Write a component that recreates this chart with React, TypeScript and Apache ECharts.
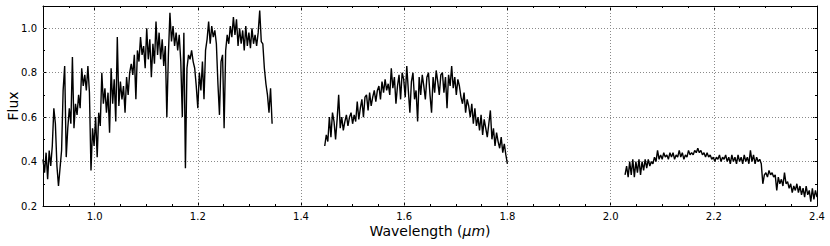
import React, { useEffect, useRef } from "react";
import * as echarts from "echarts";

// Wavelength grid of each band: start (µm) and step (µm)
const seg1Start = 0.9;
const seg2Start = 1.446;
const seg3Start = 2.028;
const segStep = 0.003;

// Flux values
const seg1Flux = [
  0.41, 0.35, 0.44, 0.32, 0.45, 0.38, 0.47, 0.64, 0.57, 0.38,
  0.29, 0.37, 0.45, 0.72, 0.83, 0.42, 0.55, 0.64, 0.57, 0.87,
  0.55, 0.66, 0.61, 0.70, 0.64, 0.82, 0.74, 0.79, 0.72, 0.83,
  0.71, 0.36, 0.55, 0.47, 0.60, 0.42, 0.62, 0.56, 0.80, 0.66,
  0.73, 0.62, 0.71, 0.53, 0.82, 0.66, 0.77, 0.58, 0.96, 0.65,
  0.76, 0.68, 0.74, 0.62, 0.78, 0.70, 0.80, 0.84, 0.79, 0.88,
  0.68, 0.90, 0.85, 0.96, 0.88, 0.92, 0.82, 1.00, 0.86, 0.95,
  0.78, 0.93, 0.84, 1.03, 0.88, 0.98, 0.86, 0.95, 0.83, 0.92,
  0.60, 0.88, 1.07, 0.94, 1.01, 0.92, 0.98, 0.90, 0.97, 0.85,
  0.60, 0.98, 0.37, 0.82, 0.88, 0.86, 0.90, 0.85, 0.82, 0.74,
  0.64, 0.80, 0.72, 0.85, 0.68, 0.90, 0.95, 1.03, 0.93, 1.01,
  0.96, 0.99, 0.93, 0.75, 0.61, 0.85, 0.88, 0.55, 0.90, 0.97,
  0.93, 1.01, 0.96, 1.05, 0.97, 1.04, 0.92, 1.00, 0.93, 0.99,
  0.90, 1.01, 0.92, 0.98, 0.91, 1.00, 0.93, 0.97, 0.92, 0.98,
  1.08, 0.94, 0.93, 0.82, 0.75, 0.70, 0.62, 0.73, 0.57,
];

const seg2Flux = [
  0.47, 0.52, 0.49, 0.60, 0.51, 0.62, 0.58, 0.50, 0.59, 0.70,
  0.55, 0.60, 0.54, 0.58, 0.61, 0.56, 0.60, 0.62, 0.57, 0.61,
  0.58, 0.67, 0.59, 0.64, 0.68, 0.60, 0.69, 0.70, 0.63, 0.71,
  0.65, 0.69, 0.72, 0.67, 0.72, 0.74, 0.68, 0.76, 0.71, 0.77,
  0.72, 0.75, 0.70, 0.82, 0.73, 0.78, 0.66, 0.74, 0.79, 0.68,
  0.80, 0.77, 0.69, 0.83, 0.72, 0.62, 0.76, 0.80, 0.68, 0.72,
  0.58, 0.78, 0.70, 0.79, 0.74, 0.68, 0.78, 0.80, 0.70, 0.62,
  0.78, 0.71, 0.81, 0.76, 0.70, 0.79, 0.80, 0.71, 0.78, 0.64,
  0.79, 0.74, 0.83, 0.73, 0.78, 0.70, 0.77, 0.74, 0.69, 0.66,
  0.71, 0.62, 0.68, 0.65, 0.60, 0.66, 0.57, 0.64, 0.56, 0.60,
  0.54, 0.61, 0.52, 0.59, 0.55, 0.51, 0.57, 0.63, 0.50, 0.55,
  0.47, 0.53, 0.49, 0.46, 0.51, 0.44, 0.48, 0.43, 0.39,
];

const seg3Flux = [
  0.34, 0.38, 0.33, 0.40, 0.34, 0.41, 0.33, 0.40, 0.35, 0.41,
  0.34, 0.40, 0.36, 0.41, 0.37, 0.41, 0.38, 0.40, 0.39, 0.42,
  0.40, 0.45, 0.41, 0.43, 0.41, 0.44, 0.42, 0.43, 0.41, 0.44,
  0.42, 0.44, 0.41, 0.43, 0.42, 0.45, 0.42, 0.44, 0.41, 0.43,
  0.42, 0.45, 0.43, 0.44, 0.43, 0.45, 0.44, 0.46, 0.44, 0.45,
  0.43, 0.44, 0.42, 0.44, 0.42, 0.43, 0.41, 0.42, 0.40, 0.42,
  0.41, 0.43, 0.40, 0.42, 0.41, 0.43, 0.40, 0.42, 0.39, 0.43,
  0.40, 0.42, 0.39, 0.43, 0.40, 0.42, 0.39, 0.43, 0.40, 0.42,
  0.39, 0.45, 0.40, 0.43, 0.39, 0.42, 0.40, 0.41, 0.39, 0.30,
  0.34, 0.35, 0.33, 0.36, 0.34, 0.35, 0.33, 0.34, 0.27, 0.33,
  0.30, 0.32, 0.29, 0.35, 0.30, 0.31, 0.28, 0.30, 0.26, 0.29,
  0.27, 0.30, 0.26, 0.29, 0.25, 0.28, 0.24, 0.29, 0.25, 0.27,
  0.22, 0.28, 0.23, 0.27, 0.24,
];

// Axis ranges and grid lines
const xMin = 0.9;
const xMax = 2.4;
const yMin = 0.2;
const yMax = 1.1;
const xGridValues = [1.0, 1.2, 1.4, 1.6, 1.8, 2.0, 2.2];
const yGridValues = [0.4, 0.6, 0.8, 1.0];

const FONT = "DejaVu Sans";

function toPoints(start: number, flux: number[]) {
  return flux.map((f, i) => [+(start + i * segStep).toFixed(4), f]);
}

export default function App() {
  const ref = useRef<HTMLDivElement>(null);

  useEffect(() => {
    if (!ref.current) return;
    const chart = echarts.init(ref.current, undefined, { renderer: "svg" });

    const L = 43;
    const W = 774;
    const T = 6;
    const H = 200;
    const majorLeft = L + (W * (1.0 - xMin)) / (xMax - xMin);

    const lineSeries = (data: number[][]) => ({
      type: "line",
      xAxisIndex: 0,
      yAxisIndex: 0,
      data,
      showSymbol: false,
      symbol: "none",
      silent: true,
      z: 3,
      lineStyle: { color: "#000", width: 1.4 },
    });

    const minorX = (pos: string) => ({
      type: "value",
      gridIndex: 0,
      position: pos,
      min: xMin,
      max: xMax,
      interval: 0.05,
      axisLine: { show: true, onZero: false, lineStyle: { color: "#000", width: 1 } },
      axisTick: { show: true, inside: true, length: 2, lineStyle: { color: "#000" } },
      axisLabel: { show: false },
      splitLine: { show: false },
    });
    const majorX = (pos: string, labels: boolean) => ({
      type: "value",
      gridIndex: 1,
      position: pos,
      min: 1.0,
      max: xMax,
      interval: 0.2,
      axisLine: { show: false, onZero: false },
      axisTick: { show: true, inside: true, length: 4, lineStyle: { color: "#000" } },
      axisLabel: {
        show: labels,
        margin: 5,
        fontSize: 10,
        color: "#000",
        fontFamily: FONT,
        formatter: (v: number) => v.toFixed(1),
      },
      splitLine: { show: false },
    });
    const yAx = (pos: string, interval: number, len: number, labels: boolean, line: boolean) => ({
      type: "value",
      gridIndex: 0,
      position: pos,
      min: yMin,
      max: yMax,
      interval,
      axisLine: { show: line, onZero: false, lineStyle: { color: "#000", width: 1 } },
      axisTick: { show: true, inside: true, length: len, lineStyle: { color: "#000" } },
      axisLabel: {
        show: labels,
        margin: 6,
        fontSize: 10,
        color: "#000",
        fontFamily: FONT,
        showMaxLabel: false,
        formatter: (v: number) => v.toFixed(1),
      },
      splitLine: { show: false },
    });

    chart.setOption({
      animation: false,
      backgroundColor: "#fff",
      grid: [
        { left: L, top: T, width: W, height: H, containLabel: false },
        { left: majorLeft, top: T, width: L + W - majorLeft, height: H, containLabel: false },
      ],
      xAxis: [minorX("bottom"), minorX("top"), majorX("bottom", true), majorX("top", false)],
      yAxis: [
        yAx("left", 0.2, 4, true, true),
        yAx("left", 0.1, 2, false, false),
        yAx("right", 0.2, 4, false, true),
        yAx("right", 0.1, 2, false, false),
        { type: "value", gridIndex: 1, show: false, min: yMin, max: yMax },
      ],
      series: [
        {
          type: "line",
          xAxisIndex: 0,
          yAxisIndex: 0,
          data: [],
          silent: true,
          markLine: {
            silent: true,
            z: 1,
            symbol: ["none", "none"],
            label: { show: false },
            lineStyle: { color: "#8a8a8a", type: [1, 2], width: 1 },
            emphasis: { disabled: true },
            data: [
              ...xGridValues.map((v) => ({ xAxis: v })),
              ...yGridValues.map((v) => ({ yAxis: v })),
            ],
          },
        },
        lineSeries(toPoints(seg1Start, seg1Flux)),
        lineSeries(toPoints(seg2Start, seg2Flux)),
        lineSeries(toPoints(seg3Start, seg3Flux)),
      ],
      graphic: [
        {
          type: "text",
          x: 13,
          y: 106,
          rotation: Math.PI / 2,
          style: {
            text: "Flux",
            fontSize: 14,
            fontFamily: FONT,
            fill: "#000",
            align: "center",
            verticalAlign: "middle",
          },
        },
        {
          type: "text",
          x: 430,
          y: 231,
          style: {
            text: "Wavelength ({i|μm})",
            fontSize: 14,
            fontFamily: FONT,
            fill: "#000",
            align: "center",
            verticalAlign: "middle",
            rich: {
              i: { fontSize: 14, fontFamily: FONT, fontStyle: "italic", fill: "#000" },
            },
          },
        },
      ],
    });

    return () => chart.dispose();
  }, []);

  return (
    <div
      ref={ref}
      style={{ position: "fixed", left: 0, top: 0, width: 830, height: 246, background: "#fff" }}
    />
  );
}
